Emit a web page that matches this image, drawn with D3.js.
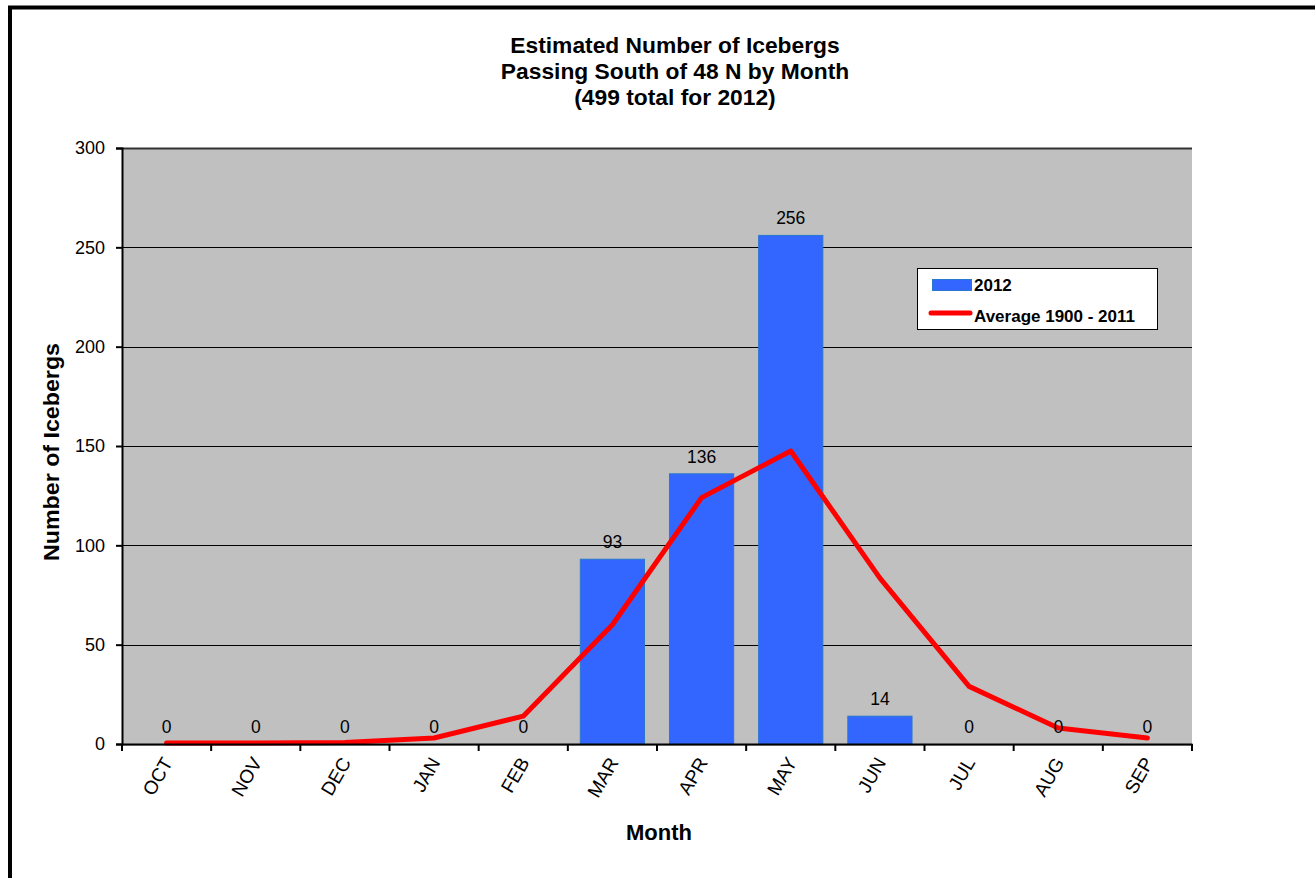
<!DOCTYPE html>
<html>
<head>
<meta charset="utf-8">
<script src="https://cdn.jsdelivr.net/npm/d3@7"></script>
<style>
  body { margin: 0; background: #fff; }
  svg { display: block; font-family: 'Liberation Sans', Arial, sans-serif; }
</style>
</head>
<body>
<svg id="chart" width="1315" height="878"></svg>
<script>
const MONTHS = ['OCT', 'NOV', 'DEC', 'JAN', 'FEB', 'MAR', 'APR', 'MAY', 'JUN', 'JUL', 'AUG', 'SEP']
const COUNTS_2012 = [0, 0, 0, 0, 0, 93, 136, 256, 14, 0, 0, 0]
const AVERAGE = [0.5, 0.5, 0.8, 3, 14, 60, 124, 147.5, 83.5, 29, 8, 3]
const Y_TICKS = [0, 50, 100, 150, 200, 250, 300]
const TITLE = ['Estimated Number of Icebergs', 'Passing South of 48 N by Month', '(499 total for 2012)']

const BAR_COLOR = '#3366ff'
const LINE_COLOR = '#ff0000'
const FONT = 'Liberation Sans, Arial, sans-serif'

const svg = d3.select('#chart')
const plot = {left: 122, right: 1192, top: 148, bottom: 744}

// outer frame, cut off at right and bottom like the source
svg.append('rect')
    .attr('x', 10).attr('y', 7.5)
    .attr('width', 1320).attr('height', 900)
    .attr('fill', 'none').attr('stroke', '#000').attr('stroke-width', 4)

const x = d3.scaleBand().domain(MONTHS).range([plot.left, plot.right]).paddingInner(0.28).paddingOuter(0.14)
const xb = d3.scaleBand().domain(MONTHS).range([plot.left, plot.right])
const y = d3.scaleLinear().domain([0, 300]).range([plot.bottom, plot.top])

svg.append('rect')
    .attr('x', plot.left).attr('y', plot.top)
    .attr('width', plot.right - plot.left).attr('height', plot.bottom - plot.top + 2)
    .attr('fill', '#c0c0c0')

// gridlines
svg.append('g')
    .selectAll('line')
    .data(Y_TICKS.filter((d) => d > 0))
    .enter().append('line')
    .attr('x1', plot.left).attr('x2', plot.right)
    .attr('y1', (d) => Math.round(y(d)) + 0.5).attr('y2', (d) => Math.round(y(d)) + 0.5)
    .attr('stroke', (d) => d === 300 ? '#333' : '#000')
    .attr('stroke-width', (d) => d === 300 ? 2 : 1)

// bars
svg.append('g')
    .selectAll('rect')
    .data(MONTHS.map((m, i) => ({m, v: COUNTS_2012[i]})).filter((d) => d.v > 0))
    .enter().append('rect')
    .attr('x', (d) => x(d.m)).attr('width', x.bandwidth())
    .attr('y', (d) => y(d.v)).attr('height', (d) => y(0) - y(d.v))
    .attr('fill', BAR_COLOR).attr('stroke', '#2a78d0').attr('stroke-width', 1)

// average line
const line = d3.line()
    .x((d, i) => xb(MONTHS[i]) + xb.bandwidth() / 2)
    .y((d) => y(d))

svg.append('path')
    .datum(AVERAGE)
    .attr('d', line)
    .attr('fill', 'none').attr('stroke', LINE_COLOR)
    .attr('stroke-width', 5).attr('stroke-linejoin', 'round').attr('stroke-linecap', 'round')

// data labels
svg.append('g')
    .selectAll('text')
    .data(COUNTS_2012)
    .enter().append('text')
    .attr('x', (d, i) => xb(MONTHS[i]) + xb.bandwidth() / 2)
    .attr('y', (d) => y(d) - 11)
    .attr('text-anchor', 'middle')
    .attr('font-size', 17.5).attr('fill', '#000')
    .text((d) => d)

// axes
const yAxis = svg.append('g')
    .attr('transform', `translate(${plot.left},0)`)
    .call(d3.axisLeft(y).tickValues(Y_TICKS).tickSize(6).tickPadding(11))
yAxis.select('.domain').attr('stroke', '#000').attr('stroke-width', 2)
yAxis.selectAll('.tick line').attr('stroke', '#000').attr('stroke-width', 2)
yAxis.selectAll('.tick text').attr('font-size', 18).attr('font-family', FONT).attr('fill', '#000')

const xAxis = svg.append('g')
    .attr('transform', `translate(0,${plot.bottom})`)
    .call(d3.axisBottom(xb).tickSize(0).tickSizeOuter(0))
xAxis.select('.domain').attr('stroke', '#000').attr('stroke-width', 2)
xAxis.selectAll('.tick text')
    .attr('font-size', 19).attr('font-family', FONT).attr('fill', '#000')
    .attr('text-anchor', 'end')
    .attr('transform', 'translate(1,15) rotate(-60)')
    .attr('dy', '0.35em').attr('y', 0)

// x tick marks on band edges
svg.append('g')
    .selectAll('line')
    .data(d3.range(MONTHS.length + 1))
    .enter().append('line')
    .attr('x1', (d) => plot.left + d * xb.step()).attr('x2', (d) => plot.left + d * xb.step())
    .attr('y1', plot.bottom).attr('y2', plot.bottom + 7)
    .attr('stroke', '#000').attr('stroke-width', 2)

// title
svg.append('text')
    .attr('x', 675).attr('y', 53)
    .attr('text-anchor', 'middle')
    .attr('font-size', 22.8).attr('font-weight', 'bold')
    .selectAll('tspan')
    .data(TITLE)
    .enter().append('tspan')
    .attr('x', 675).attr('dy', (d, i) => i === 0 ? 0 : 26)
    .text((d) => d)

svg.append('text')
    .attr('transform', `translate(59,${(plot.top + plot.bottom) / 2 + 6}) rotate(-90)`)
    .attr('text-anchor', 'middle')
    .attr('font-size', 22.5).attr('font-weight', 'bold')
    .attr('textLength', 218).attr('lengthAdjust', 'spacingAndGlyphs')
    .text('Number of Icebergs')

svg.append('text')
    .attr('x', 659).attr('y', 840)
    .attr('text-anchor', 'middle')
    .attr('font-size', 22).attr('font-weight', 'bold')
    .text('Month')

// legend
const legend = svg.append('g').attr('transform', 'translate(917,268)')
legend.append('rect')
    .attr('x', 0.5).attr('y', 0.5).attr('width', 240).attr('height', 61)
    .attr('fill', '#fff').attr('stroke', '#000').attr('stroke-width', 1)
legend.append('rect')
    .attr('x', 15.5).attr('y', 11.5).attr('width', 39).attr('height', 11)
    .attr('fill', BAR_COLOR).attr('stroke', '#2a78d0')
legend.append('line')
    .attr('x1', 14).attr('x2', 53).attr('y1', 45).attr('y2', 45)
    .attr('stroke', LINE_COLOR).attr('stroke-width', 5).attr('stroke-linecap', 'round')
legend.append('text')
    .attr('x', 57).attr('y', 23)
    .attr('font-size', 17).attr('font-weight', 'bold')
    .text('2012')
legend.append('text')
    .attr('x', 57).attr('y', 54)
    .attr('font-size', 17).attr('font-weight', 'bold')
    .text('Average 1900 - 2011')
</script>
</body>
</html>
